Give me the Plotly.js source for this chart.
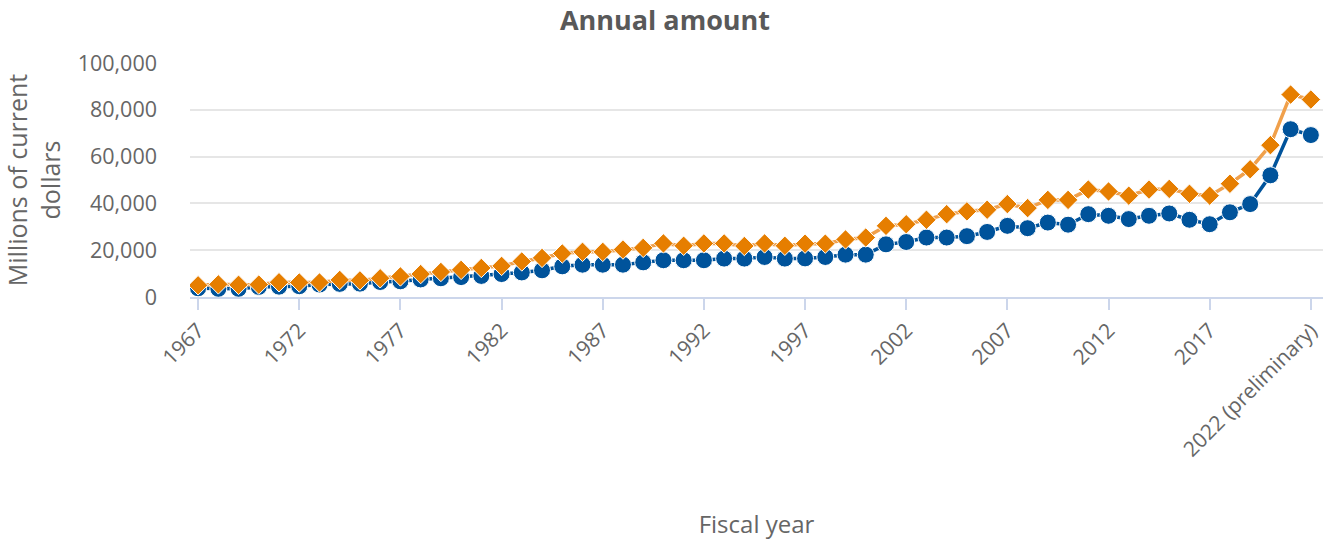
<!DOCTYPE html>
<html>
<head>
<meta charset="utf-8">
<script src="https://cdn.plot.ly/plotly-3.0.1.min.js"></script>
<style>html,body{margin:0;padding:0;background:#fff;}#chart{width:1330px;height:543px;}</style>
</head>
<body>
<div id="chart"></div>
<script>
const years = ["1967","1968","1969","1970","1971","1972","1973","1974","1975","1976","1977","1978","1979","1980","1981","1982","1983","1984","1985","1986","1987","1988","1989","1990","1991","1992","1993","1994","1995","1996","1997","1998","1999","2000","2001","2002","2003","2004","2005","2006","2007","2008","2009","2010","2011","2012","2013","2014","2015","2016","2017","2018","2019","2020","2021","2022 (preliminary)"];
const seriesOrange = [5000,5400,5200,5300,6300,6200,6200,7300,7100,8000,8800,9800,10700,11600,12400,13300,15200,16700,18600,19300,19300,20300,21000,22900,21900,22900,22900,21800,22900,21900,22800,22800,24600,25400,30400,31100,33000,35400,36600,37300,39700,38000,41500,41500,45900,45100,43300,45900,46200,44100,43300,48400,54600,64900,86500,84400];
const seriesBlue = [3700,3500,3500,4300,4400,4600,5300,5600,5700,6400,6700,7500,8000,8500,9000,9800,10500,11400,13100,13800,13800,13800,14800,15700,15700,15700,16400,16400,17100,16400,16500,17100,18100,18100,22500,23500,25400,25400,26000,27800,30400,29400,31800,30900,35400,34700,33300,34700,35700,33000,31100,36200,39700,52000,71700,69200];
const tickLabels = ["1967","1972","1977","1982","1987","1992","1997","2002","2007","2012","2017","2022 (preliminary)"];
const yTicks = [0,20000,40000,60000,80000,100000];

const font = "'Open Sans', 'Noto Sans', sans-serif";
const traces = [
  {x: years, y: seriesBlue, type: 'scatter', mode: 'lines+markers',
   line: {color: '#00539b', width: 3.5},
   marker: {symbol: 'circle', size: 17, color: '#00539b', line: {color: '#ffffff', width: 1}},
   hoverinfo: 'x+y'},
  {x: years, y: seriesOrange, type: 'scatter', mode: 'lines+markers',
   line: {color: '#f0a04b', width: 3.5},
   marker: {symbol: 'diamond', size: 15, color: '#e67e00', line: {color: '#ffffff', width: 1}},
   hoverinfo: 'x+y'}
];
const layout = {
  width: 1330, height: 543,
  margin: {l: 190, r: 7, t: 63, b: 246},
  paper_bgcolor: '#fff', plot_bgcolor: '#fff',
  showlegend: false,
  font: {family: font, color: '#666'},
  title: {text: '<b>Annual amount</b>', x: 0.5, xanchor: 'center', y: 0.963, yanchor: 'middle',
          font: {family: font, size: 27, color: '#595959'}},
  xaxis: {
    type: 'category', range: [-0.4, 55.6],
    tickmode: 'array', tickvals: tickLabels, ticktext: tickLabels,
    tickangle: -45, tickfont: {size: 21, color: '#666'},
    ticks: 'outside', ticklen: 11, tickwidth: 2, tickcolor: '#ccd6eb',
    showline: true, linecolor: '#ccd6eb', linewidth: 2,
    showgrid: false, zeroline: false,
    title: {text: 'Fiscal year', font: {size: 24, color: '#666'}, standoff: 55}
  },
  yaxis: {
    range: [0, 100000], tickmode: 'array', tickvals: yTicks,
    tickformat: ',d', tickfont: {size: 21.5, color: '#666'},
    ticklabelstandoff: 32,
    showgrid: true, gridcolor: '#e6e6e6', gridwidth: 1.5,
    zeroline: false, showline: false,
    title: {text: 'Millions of current<br>dollars', font: {size: 25, color: '#666'}, standoff: 12}
  }
};
Plotly.newPlot('chart', traces, layout, {displayModeBar: false, responsive: false});
</script>
</body>
</html>
